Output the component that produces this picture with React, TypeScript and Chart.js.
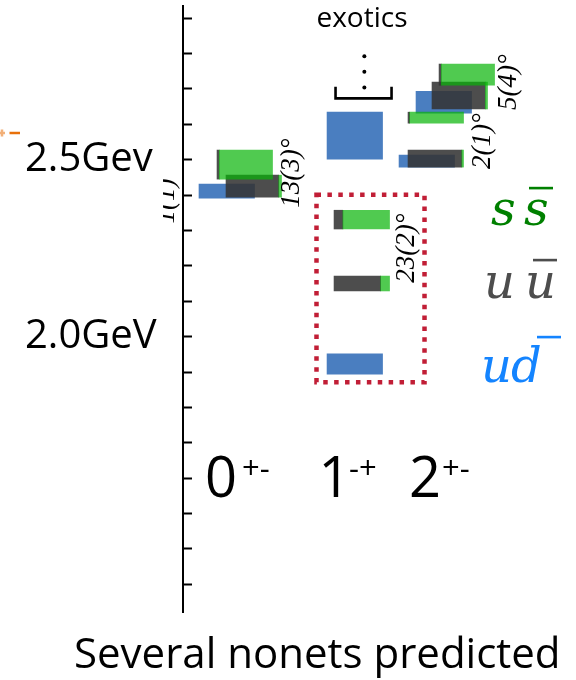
import React, { useEffect, useRef } from 'react';
import { Chart, registerables } from 'chart.js';

Chart.register(...registerables);

// ---------------- data ----------------
const CATEGORIES = ['0', '1', '2'];
const CATEGORY_SUPERSCRIPTS = ['+-', '-+', '+-'];
const Y_TICK_TEXT: [number, string][] = [
  [2.0, '2.0GeV'],
  [2.5, '2.5Gev'],
];
const TITLE = 'Several nonets predicted';
const EXOTIC_LABEL = 'exotics';

// predicted states: mass range (GeV) and flavour content
const STATE_CATEGORY = [0, 0, 0, 1, 1, 1, 1, 2, 2, 2, 2, 2, 2];
const STATE_MASS_LOW = [2.391, 2.394, 2.445, 2.501, 2.304, 2.129, 1.894, 2.479, 2.479, 2.603, 2.631, 2.643, 2.710];
const STATE_MASS_HIGH = [2.431, 2.456, 2.527, 2.634, 2.357, 2.171, 1.951, 2.513, 2.527, 2.634, 2.693, 2.719, 2.770];
const STATE_UD = [1, 0, 0, 1, 0, 0, 1, 1, 0, 0, 1, 0, 0];
const STATE_UU = [0, 0.95, 0.04, 0, 0.16, 0.84, 0, 0, 0.97, 0.03, 0, 0.96, 0.04];
const STATE_SS = [0, 0.05, 0.96, 0, 0.84, 0.16, 0, 0, 0.03, 0.97, 0, 0.04, 0.96];
const MIXING_ANGLES = ['13(3)°', '23(2)°', '2(1)°', '5(4)°'];
const CLIPPED_ANGLE = '1(1)';

// ---------------- layout / style ----------------
const PX_PER_UNIT = 55.5;
const X_MAX = 7.08;
const Y_MIN = 1.222;
const Y_MAX = 2.934;
const STATE_WIDTH = 1;
const STATE_LEFT = [0.288, 0.775, 0.613, 2.595, 2.721, 2.721, 2.595, 3.892, 4.054, 4.054, 4.198, 4.486, 4.613];
const BOX_X = [2.405, 4.351];
const BOX_E = [1.871, 2.401];
const BRACKET_X = [2.748, 3.757];
const BRACKET_E = [2.673, 2.706];
const DOTS_X = 3.267;
const DOTS_E = [2.792, 2.748, 2.704];

const BLUE = 'rgb(74,126,192)';
const DARK = 'rgba(52,52,52,0.88)';
const GREEN = 'rgba(8,180,8,0.71)';
const RED = 'rgb(193,30,54)';
const SANS = '"Open Sans", "Liberation Sans", sans-serif';
const SERIF = '"Liberation Serif", "DejaVu Serif", serif';
const MATH = '"DejaVu Serif", "Liberation Serif", serif';

const annotationPlugin = {
  id: 'annotations',
  afterDatasetsDraw(chart: any) {
    const ctx: CanvasRenderingContext2D = chart.ctx;
    const xs = chart.scales.x;
    const ys = chart.scales.y;
    const px = (u: number) => xs.getPixelForValue(u);
    const py = (e: number) => ys.getPixelForValue(e);
    ctx.save();

    // red dotted box around the 1-+ states
    ctx.strokeStyle = RED;
    ctx.lineWidth = 4.5;
    ctx.setLineDash([4.5, 6.4]);
    ctx.strokeRect(px(BOX_X[0]), py(BOX_E[1]), px(BOX_X[1]) - px(BOX_X[0]), py(BOX_E[0]) - py(BOX_E[1]));
    ctx.setLineDash([]);

    // bracket with dots ("exotics")
    ctx.strokeStyle = '#000';
    ctx.lineWidth = 2.6;
    ctx.beginPath();
    ctx.moveTo(px(BRACKET_X[0]), py(BRACKET_E[1]));
    ctx.lineTo(px(BRACKET_X[0]), py(BRACKET_E[0]));
    ctx.lineTo(px(BRACKET_X[1]), py(BRACKET_E[0]));
    ctx.lineTo(px(BRACKET_X[1]), py(BRACKET_E[1]));
    ctx.stroke();
    ctx.fillStyle = '#000';
    DOTS_E.forEach((e) => {
      ctx.beginPath();
      ctx.arc(px(DOTS_X), py(e), 2, 0, Math.PI * 2);
      ctx.fill();
    });
    ctx.font = `28px ${SANS}`;
    ctx.textAlign = 'center';
    ctx.textBaseline = 'alphabetic';
    ctx.fillText(EXOTIC_LABEL, 362, 27);

    // J^PC labels
    const catCenters = [221, 334.5, 425];
    const supLeft = [242, 349, 442];
    CATEGORIES.forEach((c, i) => {
      ctx.font = `56px ${SANS}`;
      ctx.textAlign = 'center';
      ctx.fillText(c, catCenters[i], 497);
      ctx.font = `31px ${SANS}`;
      ctx.textAlign = 'left';
      ctx.fillText(CATEGORY_SUPERSCRIPTS[i], supLeft[i], 479);
    });

    // mixing angles (rotated)
    const anglePos = [
      [299, 173],
      [414, 248],
      [490, 141],
      [516, 82],
    ];
    ctx.font = `italic 27px ${SERIF}`;
    ctx.textAlign = 'center';
    MIXING_ANGLES.forEach((t, i) => {
      ctx.save();
      ctx.translate(anglePos[i][0], anglePos[i][1]);
      ctx.rotate(-Math.PI / 2);
      ctx.fillText(t, 0, 0);
      ctx.restore();
    });
    // clipped angle label at left
    ctx.save();
    ctx.beginPath();
    ctx.rect(163, 170, 18, 60);
    ctx.clip();
    ctx.translate(174, 201);
    ctx.rotate(-Math.PI / 2);
    ctx.fillText(CLIPPED_ANGLE, 0, 0);
    ctx.restore();

    // flavour legend
    ctx.font = `italic 48px ${MATH}`;
    ctx.textAlign = 'left';
    const legend = [
      { a: 's', b: 's', color: 'rgb(0,128,0)', base: 225, ax: 491, bx: 524, bar: [529, 553, 188] },
      { a: 'u', b: 'u', color: 'rgb(77,77,77)', base: 298, ax: 484, bx: 525, bar: [533, 557, 260] },
      { a: 'u', b: 'd', color: 'rgb(20,132,255)', base: 382, ax: 481, bx: 511, bar: [537, 561, 337] },
    ];
    legend.forEach((l) => {
      ctx.fillStyle = l.color;
      ctx.fillText(l.a, l.ax, l.base);
      ctx.fillText(l.b, l.bx, l.base);
      ctx.fillRect(l.bar[0], l.bar[2] - 1.2, l.bar[1] - l.bar[0], 2.6);
    });

    // orange fragment at the left edge
    ctx.strokeStyle = 'rgb(232,112,10)';
    ctx.lineWidth = 2.5;
    ctx.globalAlpha = 0.55;
    ctx.beginPath();
    ctx.moveTo(0, 133);
    ctx.lineTo(5, 133);
    ctx.moveTo(2, 129.5);
    ctx.lineTo(2, 136.5);
    ctx.stroke();
    ctx.globalAlpha = 1;
    ctx.beginPath();
    ctx.moveTo(9.5, 133);
    ctx.lineTo(20, 133);
    ctx.stroke();

    // title
    ctx.fillStyle = '#000';
    ctx.font = `42px ${SANS}`;
    ctx.textAlign = 'left';
    ctx.fillText(TITLE, 74, 668);

    ctx.restore();
  },
};

export default function App() {
  const ref = useRef<HTMLCanvasElement>(null);

  useEffect(() => {
    const canvas = ref.current;
    if (!canvas) return;

    const datasets: any[] = [];
    STATE_MASS_LOW.forEach((lo, i) => {
      const hi = STATE_MASS_HIGH[i];
      const comps = [
        { frac: STATE_UD[i], color: BLUE, order: 2, name: 'ud' },
        { frac: STATE_UU[i], color: DARK, order: 1, name: 'uu' },
        { frac: STATE_SS[i], color: GREEN, order: 0, name: 'ss' },
      ];
      let offset = STATE_LEFT[i];
      comps.forEach((c) => {
        if (c.frac <= 0) return;
        const w = c.frac * STATE_WIDTH;
        datasets.push({
          label: `${CATEGORIES[STATE_CATEGORY[i]]} ${c.name} ${i}`,
          data: [{ x: offset + w / 2, y: [lo, hi] }],
          backgroundColor: c.color,
          borderWidth: 0,
          barThickness: w * PX_PER_UNIT,
          grouped: false,
          order: c.order,
        });
        offset += w;
      });
    });

    const chart = new Chart(canvas, {
      type: 'bar',
      data: { datasets },
      plugins: [annotationPlugin],
      options: {
        animation: false,
        responsive: false,
        devicePixelRatio: 1,
        layout: { padding: { top: 6, bottom: 68, left: 25, right: 0 } },
        plugins: {
          legend: { display: false },
          tooltip: { enabled: false },
          title: { display: false },
        },
        scales: {
          x: {
            type: 'linear',
            display: false,
            offset: false,
            grid: { offset: false },
            min: 0,
            max: X_MAX,
          },
          y: {
            type: 'linear',
            min: Y_MIN,
            max: Y_MAX,
            stacked: false,
            afterFit: (scale: any) => {
              scale.width = 158;
              scale.paddingTop = 0;
              scale.paddingBottom = 0;
            },
            border: { display: true, color: '#000', width: 2 },
            grid: {
              display: true,
              drawOnChartArea: false,
              drawTicks: true,
              tickLength: -9,
              tickWidth: 2,
              tickColor: '#000',
            },
            ticks: {
              stepSize: 0.1,
              includeBounds: false,
              autoSkip: false,
              crossAlign: 'far',
              padding: 0,
              color: '#000',
              font: { family: SANS, size: 40 },
              callback: (v: any) => {
                const hit = Y_TICK_TEXT.find(([val]) => Math.abs(val - Number(v)) < 1e-6);
                return hit ? hit[1] : '';
              },
            },
          },
        },
      } as any,
    });

    return () => chart.destroy();
  }, []);

  return (
    <div style={{ position: 'fixed', left: 0, top: 0, width: 576, height: 680, background: '#fff' }}>
      <canvas ref={ref} width={576} height={680} style={{ display: 'block' }} />
    </div>
  );
}
